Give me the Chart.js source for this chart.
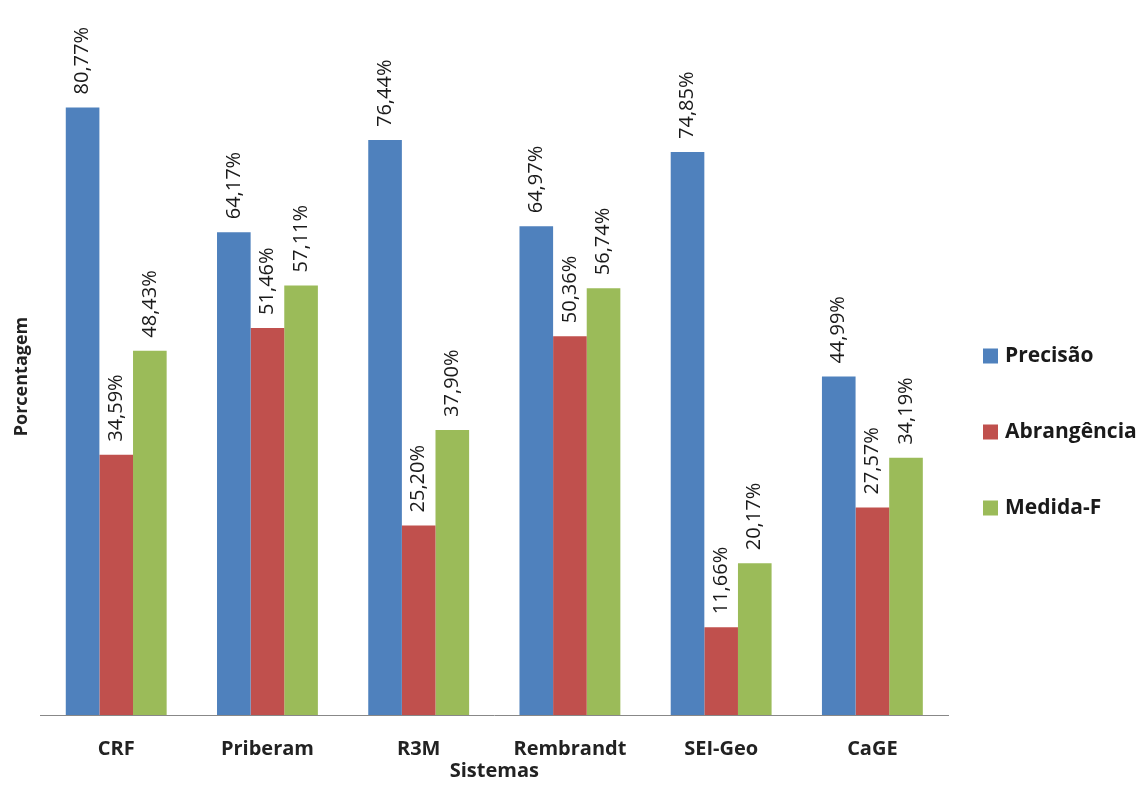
<!DOCTYPE html>
<html>
<head>
<meta charset="utf-8">
<script src="https://cdn.jsdelivr.net/npm/chart.js@4.4.0/dist/chart.umd.min.js"></script>
<style>
  html, body { margin: 0; padding: 0; background: #fff; }
  #wrap { width: 1143px; height: 787px; }
</style>
</head>
<body>
<div id="wrap"><canvas id="myChart"></canvas></div>
<script>
const sistemas = ['CRF', 'Priberam', 'R3M', 'Rembrandt', 'SEI-Geo', 'CaGE'];
const precisao = [80.77, 64.17, 76.44, 64.97, 74.85, 44.99];
const abrangencia = [34.59, 51.46, 25.20, 50.36, 11.66, 27.57];
const medidaF = [48.43, 57.11, 37.90, 56.74, 20.17, 34.19];

// rotulos verticais em cima das barras
const rotulos = {
  id: 'rotulos',
  afterDatasetsDraw(chart) {
    const ctx = chart.ctx;
    chart.data.datasets.forEach((ds, i) => {
      chart.getDatasetMeta(i).data.forEach((bar, j) => {
        const txt = ds.data[j].toFixed(2).replace('.', ',') + '%';
        ctx.save();
        ctx.translate(bar.x, bar.y - 13);
        ctx.rotate(-Math.PI / 2);
        ctx.font = '20px "Open Sans"';
        ctx.fillStyle = '#1a1a1a';
        ctx.textAlign = 'left';
        ctx.textBaseline = 'middle';
        ctx.fillText(txt, 0, 0);
        ctx.restore();
      });
    });
  }
};

// legenda a direita, itens bem espaçados
const legenda = {
  id: 'legenda',
  afterDraw(chart) {
    const ctx = chart.ctx;
    const x = chart.chartArea.right + 35;
    chart.data.datasets.forEach((ds, i) => {
      const y = 356 + i * 76;
      ctx.save();
      ctx.fillStyle = ds.backgroundColor;
      ctx.fillRect(x, y - 7.5, 15, 15);
      ctx.font = 'bold 21px "Open Sans"';
      ctx.fillStyle = '#1a1a1a';
      ctx.textAlign = 'left';
      ctx.textBaseline = 'middle';
      ctx.fillText(ds.label, x + 22, y);
      ctx.restore();
    });
  }
};

const data = {
  labels: sistemas,
  datasets: [
    { label: 'Precisão', data: precisao, backgroundColor: '#4F81BD' },
    { label: 'Abrangência', data: abrangencia, backgroundColor: '#C0504D' },
    { label: 'Medida-F', data: medidaF, backgroundColor: '#9BBB59' }
  ]
};

const config = {
  type: 'bar',
  data: data,
  options: {
    responsive: true,
    maintainAspectRatio: false,
    animation: false,
    layout: { padding: { top: 38, left: 0, right: 195, bottom: 0 } },
    datasets: {
      bar: { categoryPercentage: 0.667, barPercentage: 1.0 }
    },
    plugins: {
      legend: { display: false },
      tooltip: { enabled: false }
    },
    scales: {
      x: {
        grid: { display: false },
        border: { display: true, color: '#888', width: 1 },
        ticks: {
          padding: 14,
          color: '#222',
          font: { family: 'Open Sans', size: 20, weight: 'bold', lineHeight: 1.2 }
        },
        title: {
          display: true,
          text: 'Sistemas',
          color: '#222',
          padding: { top: -14, bottom: 6 },
          font: { family: 'Open Sans', size: 20, weight: 'bold', lineHeight: 1 }
        }
      },
      y: {
        min: 0,
        max: 90,
        grid: { display: false },
        border: { display: false },
        ticks: { display: false },
        title: {
          display: true,
          text: 'Porcentagem',
          color: '#222',
          padding: { top: 11, bottom: 0 },
          font: { family: 'Open Sans', size: 18, weight: 'bold' }
        }
      }
    }
  },
  plugins: [rotulos, legenda]
};

var myChart = new Chart(document.getElementById('myChart'), config);
</script>
</body>
</html>
